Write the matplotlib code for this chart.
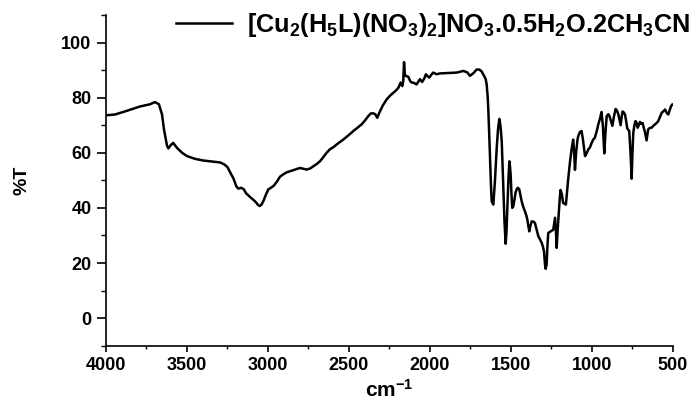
import matplotlib
matplotlib.use("Agg")
import matplotlib.pyplot as plt
from matplotlib.ticker import MultipleLocator

plt.rcParams['font.family'] = ['Liberation Sans', 'DejaVu Sans']
plt.rcParams['font.weight'] = 'bold'
plt.rcParams['mathtext.fontset'] = 'custom'
plt.rcParams['mathtext.rm'] = 'Liberation Sans:bold'
plt.rcParams['mathtext.bf'] = 'Liberation Sans:bold'
plt.rcParams['mathtext.default'] = 'bf'

# FT-IR spectrum of the copper complex (wavenumber in cm-1, transmittance in %)
wavenumber = [
    4000, 3944, 3883, 3790, 3728, 3698, 3673, 3654, 3642, 3623, 3615, 3600,
    3585, 3562, 3530, 3500, 3450, 3400, 3340, 3296, 3270, 3250, 3230, 3214,
    3195, 3183, 3165, 3150, 3135, 3111, 3080, 3060, 3050, 3040, 3029, 3015,
    2998, 2967, 2945, 2926, 2905, 2885, 2844, 2802, 2780, 2761, 2740, 2720,
    2700, 2679, 2660, 2638, 2617, 2597, 2570, 2535, 2500, 2473, 2445, 2422,
    2400, 2381, 2365, 2350, 2338, 2325, 2315, 2308, 2290, 2267, 2245, 2226,
    2210, 2195, 2181, 2171, 2165, 2160, 2155, 2150, 2134, 2122, 2113, 2100,
    2083, 2070, 2062, 2048, 2035, 2025, 2015, 2004, 1992, 1980, 1959, 1938,
    1900, 1860, 1835, 1794, 1770, 1753, 1730, 1712, 1695, 1681, 1665, 1656,
    1650, 1644, 1640, 1635, 1630, 1624, 1619, 1609, 1599, 1588, 1580, 1572,
    1565, 1557, 1547, 1540, 1533, 1528, 1523, 1516, 1510, 1506, 1502, 1497,
    1492, 1486, 1480, 1472, 1465, 1458, 1449, 1441, 1434, 1425, 1414, 1405,
    1399, 1393, 1387, 1380, 1372, 1360, 1352, 1342, 1331, 1320, 1310, 1303,
    1296, 1290, 1286, 1280, 1275, 1270, 1255, 1239, 1233, 1228, 1222, 1218,
    1212, 1205, 1198, 1194, 1186, 1178, 1170, 1161, 1155, 1147, 1136, 1126,
    1120, 1116, 1110, 1105, 1098, 1090, 1085, 1075, 1064, 1055, 1048, 1043,
    1033, 1023, 1012, 1002, 992, 982, 970, 961, 950, 941, 933, 924,
    916, 909, 899, 893, 883, 874, 865, 854, 845, 837, 830, 823,
    817, 811, 806, 796, 789, 782, 770, 762, 755, 750, 745, 738,
    731, 724, 718, 711, 704, 695, 687, 683, 673, 663, 653, 643,
    632, 621, 611, 601, 591, 580, 570, 560, 549, 539, 529, 520,
    512, 504,
]
transmittance = [
    73.6, 73.9, 75.0, 76.8, 77.6, 78.4, 77.6, 73.9, 68.5, 62.5, 61.6, 62.8,
    63.6, 61.8, 60.0, 58.8, 57.8, 57.2, 56.8, 56.5, 55.8, 54.8, 52.5, 50.8,
    47.8, 47.0, 47.3, 46.8, 45.3, 44.0, 42.4, 41.0, 40.7, 41.2, 42.4, 44.5,
    46.7, 47.9, 49.5, 51.3, 52.2, 52.9, 53.7, 54.5, 54.2, 53.9, 54.3, 55.1,
    55.9, 56.9, 58.3, 60.0, 61.3, 62.0, 63.3, 64.8, 66.5, 67.9, 69.2, 70.3,
    71.8, 73.3, 74.3, 74.3, 74.0, 72.7, 74.2, 75.1, 77.3, 79.4, 80.8, 81.8,
    82.6, 83.6, 85.5, 84.2, 86.0, 92.9, 88.5, 87.9, 87.6, 86.0, 85.5, 85.4,
    84.8, 86.0, 86.7, 85.7, 87.0, 88.5, 87.8, 87.3, 88.3, 89.1, 88.5, 88.8,
    88.9, 89.0, 89.1, 89.7, 89.2, 87.9, 89.0, 90.2, 90.2, 89.5, 87.8, 86.7,
    84.8, 80.5, 76.0, 68.0, 59.4, 49.0, 42.4, 41.2, 49.7, 61.8, 68.5, 72.3,
    70.0, 64.2, 47.3, 35.0, 27.0, 31.0, 38.8, 50.0, 56.9, 55.0, 52.1, 45.0,
    40.0, 40.5, 42.4, 45.5, 46.7, 47.3, 46.8, 44.5, 42.4, 40.5, 38.8, 37.2,
    35.8, 33.5, 31.5, 33.5, 35.1, 35.0, 34.5, 32.2, 29.7, 28.5, 27.3, 26.0,
    24.2, 19.5, 17.9, 19.5, 26.0, 30.9, 31.5, 32.1, 34.5, 36.4, 31.0, 25.5,
    32.0, 38.0, 44.0, 46.5, 45.0, 41.8, 41.5, 41.2, 45.0, 50.3, 56.5, 61.2,
    63.5, 64.8, 60.0, 53.8, 60.0, 64.5, 66.0, 67.5, 67.9, 64.5, 61.0, 58.8,
    59.8, 61.2, 62.0, 63.6, 64.8, 65.5, 68.0, 70.3, 72.5, 74.8, 70.0, 59.8,
    68.0, 73.3, 74.0, 73.5, 71.5, 69.8, 73.0, 75.9, 75.2, 73.9, 72.0, 70.0,
    73.0, 75.0, 74.8, 73.9, 71.5, 68.8, 67.9, 60.0, 50.6, 60.0, 67.3, 70.0,
    71.5, 70.8, 69.1, 70.0, 71.2, 70.5, 70.8, 69.7, 67.5, 64.5, 68.5, 69.0,
    69.1, 69.8, 70.3, 70.8, 71.5, 73.0, 74.5, 75.0, 75.7, 74.5, 73.9, 75.5,
    76.9, 77.5,
]
label = r'[Cu$_2$(H$_5$L)(NO$_3$)$_2$]NO$_3$.0.5H$_2$O.2CH$_3$CN'

fig = plt.figure(figsize=(6.94, 4.05), dpi=100)
ax = fig.add_axes([0.1527, 0.1464, 0.8170, 0.8166])

ax.plot(wavenumber, transmittance, color='black', lw=1.8, label=label)

ax.set_xlim(4000, 500)
ax.set_ylim(-10, 110)
ax.xaxis.set_major_locator(MultipleLocator(500))
ax.xaxis.set_minor_locator(MultipleLocator(250))
ax.yaxis.set_minor_locator(MultipleLocator(10))
ax.set_yticks([0, 20, 40, 60, 80, 100])

for side in ['top', 'right']:
    ax.spines[side].set_visible(False)
for side in ['left', 'bottom']:
    ax.spines[side].set_linewidth(1.2)

ax.tick_params(axis='x', which='major', length=4.3, width=1.2, pad=3.5, labelsize=13)
ax.tick_params(axis='x', which='minor', length=2.2, width=1.0)
ax.tick_params(axis='y', which='major', length=6.5, width=1.2, pad=4, labelsize=13)
ax.tick_params(axis='y', which='minor', length=3.6, width=1.0)
for t in ax.get_xticklabels() + ax.get_yticklabels():
    t.set_fontweight('bold')

ax.set_xlabel('cm$^{-1}$', fontsize=15, fontweight='bold', labelpad=4)
ax.set_ylabel('%T', fontsize=14, fontweight='bold', labelpad=22)

leg = fig.legend(loc='center left', bbox_to_anchor=(176 / 694, 1 - 25 / 405),
                 frameon=False, fontsize=18.2, handlelength=2.2, handletextpad=0.6,
                 borderpad=0, borderaxespad=0)
for t in leg.get_texts():
    t.set_fontweight('bold')

fig.savefig('out.png', dpi=100)
